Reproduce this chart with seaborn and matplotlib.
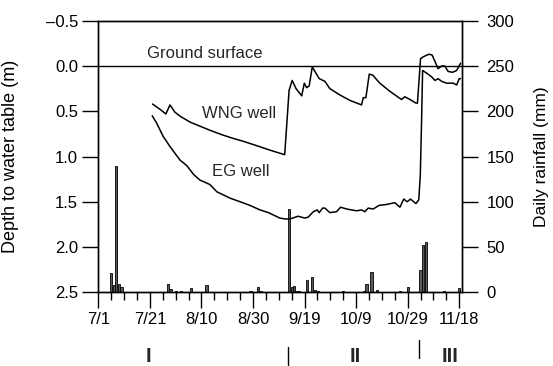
import matplotlib
matplotlib.use("Agg")
import matplotlib.pyplot as plt
import matplotlib.transforms as mtransforms
import seaborn as sns
import numpy as np
import pandas as pd

# ---------------- data ----------------
# days counted from 7/1 (day 0)
wng_days = [21.0, 24.0, 26.2, 27.8, 29.7, 32.0, 35.6, 39.0, 43.3, 48.0, 52.3, 56.0,
            61.4, 66.6, 70.0, 72.3, 74.0, 75.2, 76.7, 78.9, 79.9, 80.8, 81.8, 83.0,
            84.0, 85.7, 87.9, 89.8, 93.7, 97.6, 102.1, 102.8, 103.8, 105.1, 106.4,
            109.2, 113.1, 117.6, 118.9, 120.9, 123.2, 123.8, 125.0, 126.0, 127.4,
            128.4, 129.5, 130.6, 131.8, 133.2, 134.4, 135.7, 137.4, 139.0, 140.5]
wng_depth = [0.42, 0.48, 0.53, 0.43, 0.51, 0.56, 0.62, 0.66, 0.71, 0.76, 0.80, 0.83,
             0.88, 0.93, 0.96, 0.98, 0.27, 0.16, 0.25, 0.33, 0.19, 0.24, 0.22, 0.01,
             0.06, 0.14, 0.17, 0.25, 0.32, 0.38, 0.43, 0.35, 0.35, 0.09, 0.10,
             0.19, 0.28, 0.37, 0.34, 0.37, 0.41, 0.41, -0.08, -0.10, -0.12,
             -0.13, -0.12, -0.05, 0.03, 0.00, 0.00, 0.06, 0.07, 0.05, -0.03]

eg_days = [20.9, 22.6, 25.2, 27.8, 31.7, 34.3, 37.0, 39.4, 43.3, 46.0, 51.1, 55.0,
           58.8, 62.7, 66.0, 70.4, 72.5, 74.3, 77.5, 80.1, 81.4, 83.4, 84.9, 85.7,
           87.0, 87.9, 89.8, 92.4, 94.0, 96.3, 100.2, 102.1, 103.4, 104.7, 106.6,
           108.9, 111.8, 115.0, 117.0, 118.5, 119.8, 121.1, 123.2, 124.3, 124.9,
           125.4, 125.8, 127.4, 129.3, 130.6, 131.8, 133.2, 135.1, 137.7, 139.0,
           140.0, 140.5]
eg_depth = [0.55, 0.63, 0.78, 0.89, 1.04, 1.10, 1.20, 1.26, 1.31, 1.39, 1.46, 1.50,
            1.54, 1.59, 1.62, 1.68, 1.69, 1.69, 1.66, 1.68, 1.67, 1.61, 1.59, 1.62,
            1.57, 1.57, 1.62, 1.61, 1.56, 1.58, 1.60, 1.59, 1.61, 1.57, 1.58,
            1.54, 1.53, 1.51, 1.56, 1.47, 1.50, 1.47, 1.52, 1.48, 1.21,
            0.60, 0.05, 0.08, 0.12, 0.16, 0.14, 0.17, 0.19, 0.19, 0.21,
            0.14, 0.14]

rain_days = [5, 6, 7, 8, 9, 27, 28, 30, 32, 36, 42, 59, 62, 63, 74, 75, 76, 77, 78,
             81, 83, 84, 85, 95, 103, 104, 106, 108, 117, 120, 125, 126, 127, 134, 140]
rain_mm = [21, 7.7, 140, 9.2, 5.5, 8.8, 3.3, 1, 1, 4.4, 7.7, 1.5, 5.5, 1.5, 92, 5.9, 6.6,
           1.5, 1, 13.3, 17, 2.2, 1, 1, 1, 9.6, 22.5, 2.2, 1.5, 5.9, 25, 52, 55.6, 1, 5]

xtick_days = [0, 20, 40, 60, 80, 100, 120, 140]
xtick_labels = ["7/1", "7/21", "8/10", "8/30", "9/19", "10/9", "10/29", "11/18"]
depth_ticks = [-0.5, 0.0, 0.5, 1.0, 1.5, 2.0, 2.5]
rain_ticks = [0, 50, 100, 150, 200, 250, 300]

period_labels = ["I", "II", "III"]
period_label_days = [19.4, 99.5, 136.4]
period_bound_days = [73.7, 124.5]

# ---------------- style ----------------
sns.set_theme(style="ticks")
plt.rcParams["font.family"] = ["Liberation Sans", "DejaVu Sans"]
plt.rcParams["axes.linewidth"] = 1.0

fig = plt.figure(figsize=(5.53, 3.66), dpi=100)
ax = fig.add_axes([0.1778, 0.2014, 0.836 - 0.1778, 0.9434 - 0.2014])
ax2 = ax.twinx()

# rainfall bars (right axis)
rain_df = pd.DataFrame({"day": rain_days, "rain": rain_mm})
sns.histplot(data=rain_df, x="day", weights="rain", discrete=True, ax=ax2,
             color="#5a5a5a", edgecolor="black", linewidth=0.6, alpha=1.0,
             shrink=0.85)

# water-table lines (left axis)
wng_df = pd.DataFrame({"day": wng_days, "depth": wng_depth})
eg_df = pd.DataFrame({"day": eg_days, "depth": eg_depth})
sns.lineplot(data=wng_df, x="day", y="depth", ax=ax, color="black", lw=1.1,
             estimator=None, sort=False)
sns.lineplot(data=eg_df, x="day", y="depth", ax=ax, color="black", lw=1.1,
             estimator=None, sort=False)
ax.axhline(0.0, color="black", lw=1.0)

# put lines above bars
ax.set_zorder(ax2.get_zorder() + 1)
ax.patch.set_visible(False)

# axes limits and ticks
ax.set_xlim(0, 141.2)
ax.set_ylim(2.5, -0.5)
ax.set_yticks(depth_ticks)
ax.set_yticklabels(["\u20130.5"] + [f"{v:.1f}" for v in depth_ticks[1:]])
ax.set_xticks(xtick_days)
ax.set_xticklabels(xtick_labels)
ax.set_xticks(np.arange(0, 141, 5), minor=True)
ax2.set_ylim(0, 300)
ax2.set_yticks(rain_ticks)

ax.tick_params(axis="both", which="major", direction="out", length=11.5, width=1.0,
               labelsize=12, color="black", labelcolor="black", pad=3)
ax.tick_params(axis="x", which="minor", direction="out", length=6, width=1.0,
               color="black")
ax2.tick_params(axis="y", which="major", direction="out", length=11.5, width=1.0,
                labelsize=12, color="black", labelcolor="black", pad=6)

for a in (ax, ax2):
    for s in a.spines.values():
        s.set_visible(True)
        s.set_color("black")
        s.set_linewidth(1.0)

ax.set_xlabel("")
ax.set_ylabel("Depth to water table (m)", fontsize=13, color="black")
ax.yaxis.set_label_coords(-0.219, 0.5)
ax2.set_ylabel("Daily rainfall (mm)", fontsize=12.5, color="black")
ax2.yaxis.set_label_coords(1.198, 0.5)

# annotations
ax.text(18.8, -0.14, "Ground surface", fontsize=12, ha="left", va="center")
ax.text(40.1, 0.52, "WNG well", fontsize=12, ha="left", va="center")
ax.text(44.0, 1.17, "EG well", fontsize=12, ha="left", va="center")

trans = mtransforms.blended_transform_factory(ax.transData, ax.transAxes)
for lab, d in zip(period_labels, period_label_days):
    ax.text(d, -0.236, lab, transform=trans, fontsize=14.5, fontweight="bold",
            ha="center", va="center", clip_on=False)
ax.plot([period_bound_days[0]] * 2, [-0.2, -0.268], transform=trans, color="black",
        lw=1.0, clip_on=False)
ax.plot([period_bound_days[1]] * 2, [-0.175, -0.243], transform=trans, color="black",
        lw=1.0, clip_on=False)

fig.savefig("out.png", dpi=100, facecolor="white")
